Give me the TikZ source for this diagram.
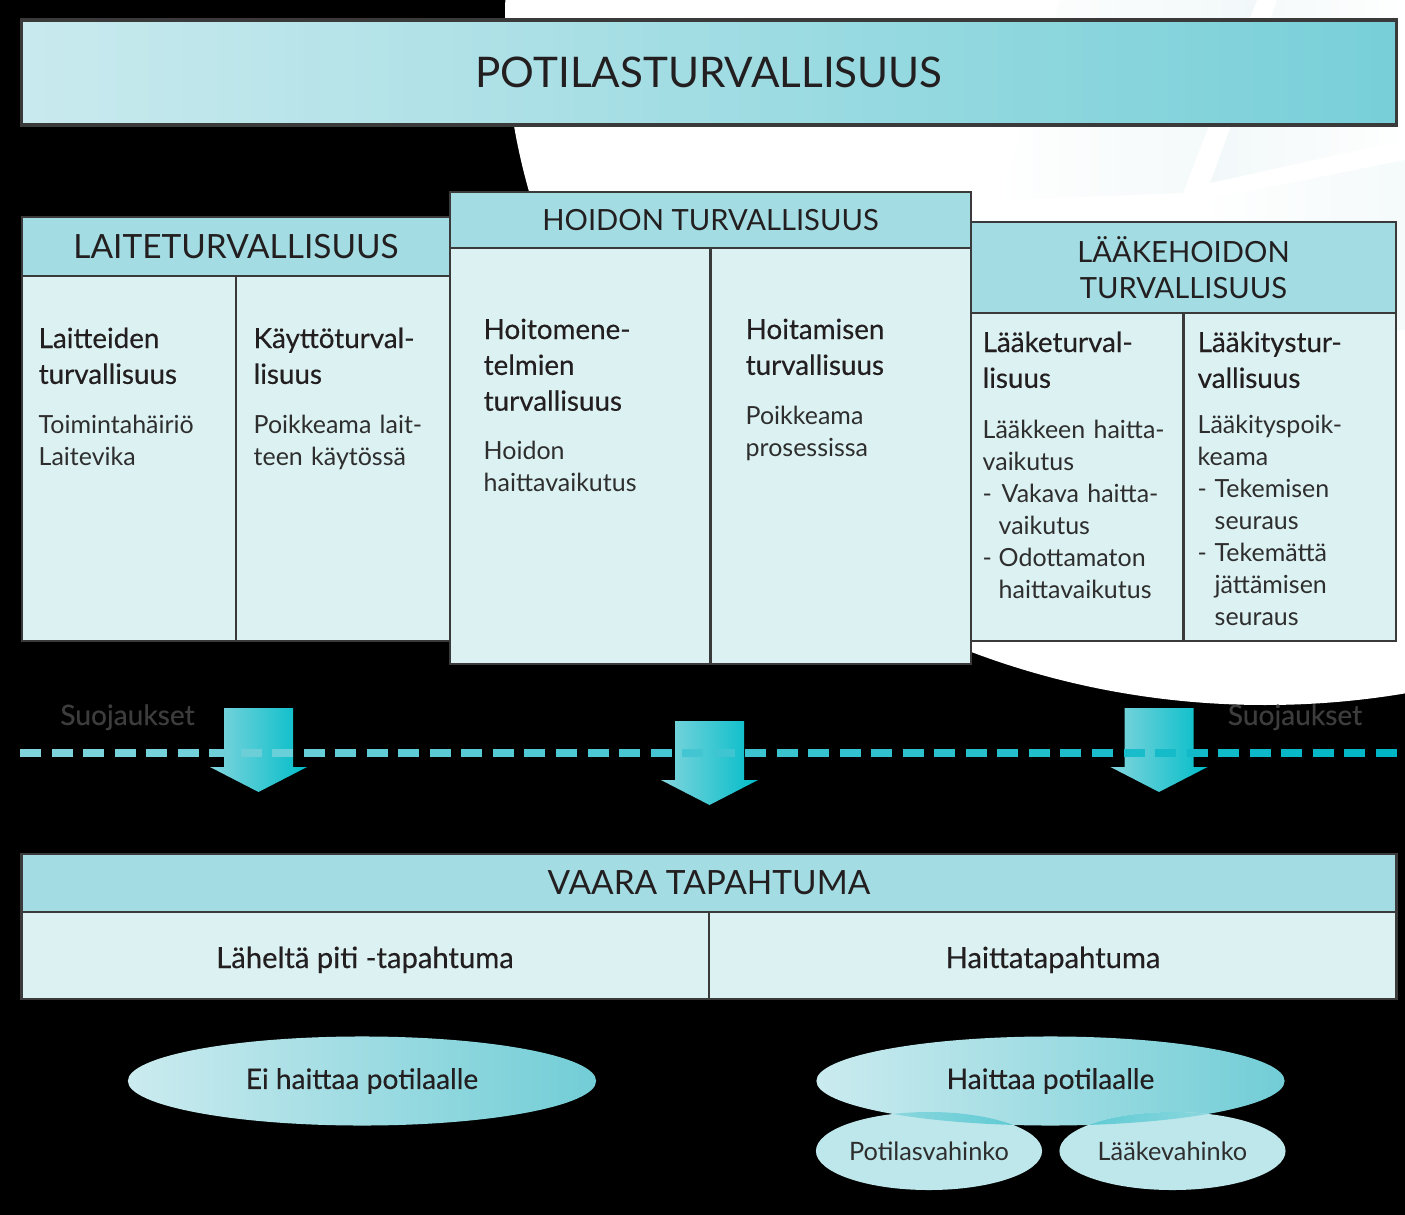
\documentclass[tikz,border=0pt]{standalone}
\usepackage{fontspec}
\setmainfont{Lato}
\newfontfamily\subfont{Lato}[FakeBold=0.35]
\usetikzlibrary{positioning}
\usetikzlibrary{shapes.geometric}

\definecolor{titleL}{HTML}{C9EAEE}
\definecolor{titleR}{HTML}{78CFD8}
\definecolor{headfill}{HTML}{A3DDE3}
\definecolor{bodyfill}{HTML}{DCF1F2}
\definecolor{boxline}{HTML}{3A3A3A}
\definecolor{arrowL}{HTML}{83D5DD}
\definecolor{arrowR}{HTML}{00BDC9}
\definecolor{dashL}{HTML}{80D4DC}
\definecolor{dashR}{HTML}{00B6C6}
\definecolor{ellL}{HTML}{CBEBEF}
\definecolor{ellR}{HTML}{72CDD6}
\definecolor{smallell}{HTML}{BEE7EB}
\definecolor{ovL}{HTML}{A6DEE3}
\definecolor{ovR}{HTML}{55C8D2}
\definecolor{inktext}{HTML}{231F20}
\definecolor{softtext}{HTML}{2E2E2E}
\definecolor{guardgray}{HTML}{3D3D3D}
\definecolor{streak}{HTML}{E6F3F5}

\tikzset{
  boxframe/.style={draw=boxline, line width=0.7pt, outer sep=0pt, inner sep=0pt},
  titlebox/.style={boxframe, line width=0.9pt, left color=titleL, right color=titleR,
    text=inktext, font=\fontsize{12}{14}\selectfont},
  headbox/.style={boxframe, fill=headfill, text=inktext, align=center},
  bodybox/.style={boxframe, fill=bodyfill},
  divider/.style={draw=boxline, line width=0.7pt},
  subhead/.style={anchor=base west, inner sep=0pt, text=inktext, align=left,
    text width=1.95cm, font=\subfont\fontsize{7.9}{10.2}\selectfont},
  bodytext/.style={anchor=base west, inner sep=0pt, text=softtext, align=left,
    text width=1.95cm, font=\fontsize{7.1}{9.1}\selectfont},
  eventtext/.style={anchor=base, inner sep=0pt, text=inktext,
    font=\subfont\fontsize{8.3}{10}\selectfont},
  guardtext/.style={anchor=base, inner sep=0pt, text=guardgray,
    font=\subfont\fontsize{8}{10}\selectfont},
  bigell/.style={ellipse, inner sep=0pt, minimum width=4.68cm, minimum height=0.89cm,
    left color=ellL, right color=ellR, text=inktext,
    font=\subfont\fontsize{8}{10}\selectfont},
  smallellipse/.style={ellipse, inner sep=0pt, minimum width=2.26cm, minimum height=0.78cm,
    fill=smallell, text=softtext, font=\fontsize{7.2}{9}\selectfont}
}

\begin{document}
\begin{tikzpicture}[x=0.01cm, y=-0.01cm]
\useasboundingbox (0,0) rectangle (1405,1215);
\fill[black] (0,0) rectangle (1405,1215);
\begin{scope}
\clip (0,0) rectangle (1405,1215);
\fill[white] (1265,20) ellipse [x radius=760, y radius=685];
\clip (1265,20) ellipse [x radius=760, y radius=685];
\shade[left color=white, right color=streak, opacity=0.5] (1060,0) -- (1257,0) -- (1183,193) -- (1000,200) -- cycle;
\shade[left color=streak, right color=white, opacity=0.5] (1277,0) -- (1405,0) -- (1405,140) -- (1210,183) -- cycle;
\shade[left color=white, right color=streak, opacity=0.4] (1205,200) -- (1405,160) -- (1405,330) -- (1300,330) -- cycle;
\end{scope}

\node[titlebox, minimum width=13.74cm, minimum height=1.05cm] (title) at (709,72.5) {POTILASTURVALLISUUS};

% laitteet
\node[headbox, minimum width=4.28cm, minimum height=0.59cm, font=\fontsize{9.5}{11}\selectfont] (laiteHead) at (236,246.5) {LAITETURVALLISUUS};
\node[bodybox, minimum width=4.28cm, minimum height=3.65cm, below=0pt of laiteHead] (laiteBody) {};
\draw[divider] (laiteHead.south) -- (laiteBody.south);

% laakehoito
\node[headbox, minimum width=4.25cm, minimum height=0.91cm, font=\fontsize{8.3}{10.2}\selectfont] (laakeHead) at (1183.5,267.5) {LÄÄKEHOIDON\\TURVALLISUUS};
\node[bodybox, minimum width=4.25cm, minimum height=3.28cm, below=0pt of laakeHead] (laakeBody) {};
\draw[divider] (laakeHead.south) -- (laakeBody.south);

% hoito
\node[headbox, minimum width=5.21cm, minimum height=0.56cm, font=\fontsize{8.3}{10}\selectfont] (hoitoHead) at (710.5,220) {HOIDON TURVALLISUUS};
\node[bodybox, minimum width=5.21cm, minimum height=4.16cm, below=0pt of hoitoHead] (hoitoBody) {};
\draw[divider] (hoitoHead.south) -- (hoitoBody.south);

\node[subhead] (laitteidenT) at (38,348) {Laitteiden\\turvallisuus};
\node[bodytext] (toimintaT) at (38,433) {Toimintahäiriö\\Laitevika};
\node[subhead] (kayttoT) at (253,348) {Käyttöturval-\\lisuus};
\node[bodytext] (poikkeamaT) at (253,433) {Poikkeama lait-\\teen käytössä};
\node[subhead] (hoitomT) at (483,339) {Hoitomene-\\telmien\\turvallisuus};
\node[bodytext] (hoidonT) at (483,459) {Hoidon\\haittavaikutus};
\node[subhead] (hoitamT) at (745,339) {Hoitamisen\\turvallisuus};
\node[bodytext] (prosessiT) at (745,424) {Poikkeama\\prosessissa};
\node[subhead] (laaketT) at (982,352) {Lääketurval-\\lisuus};
\node[bodytext] (haittavT) at (982,438) {Lääkkeen haitta-\\vaikutus\\\makebox[0.19cm][l]{-}Vakava haitta-\\\hspace*{0.16cm}vaikutus\\\makebox[0.16cm][l]{-}Odottamaton\\\hspace*{0.16cm}haittavaikutus};
\node[subhead] (laakitysT) at (1197,352) {Lääkitystur-\\vallisuus};
\node[bodytext] (spoikT) at (1197,433) {Lääkityspoik-\\keama\\\makebox[0.17cm][l]{-}Tekemisen\\\hspace*{0.17cm}seuraus\\\makebox[0.17cm][l]{-}Tekemättä\\\hspace*{0.17cm}jättämisen\\\hspace*{0.17cm}seuraus};

% suojaukset
\node[guardtext] (suojaL) at (127.5,725) {Suojaukset};
\node[guardtext] (suojaR) at (1295,725) {Suojaukset};
\foreach \ax/\ay in {258.5/708, 709.5/721, 1159/708}
  \shade[left color=arrowL, middle color=arrowR, right color=arrowR]
    (\ax-34.5,\ay) -- (\ax+34.5,\ay) -- (\ax+34.5,\ay+59) -- (\ax+48.5,\ay+59)
    -- (\ax,\ay+84) -- (\ax-48.5,\ay+59) -- (\ax-34.5,\ay+59) -- cycle;
\foreach \k in {0,...,43}{
  \pgfmathsetmacro\dx{20+31.53*\k}
  \pgfmathtruncatemacro\mixp{100*\k/43}
  \fill[dashR!\mixp!dashL] (\dx,749) rectangle ++(21,8);
}

% vaara
\node[headbox, minimum width=13.74cm, minimum height=0.58cm, font=\fontsize{9.5}{11}\selectfont] (vaaraHead) at (709,883) {VAARA TAPAHTUMA};
\node[bodybox, minimum width=13.74cm, minimum height=0.87cm, below=0pt of vaaraHead] (vaaraBody) {};
\draw[divider] (vaaraHead.south) -- (vaaraBody.south);
\node[eventtext] (laheltaT) at (365,968) {Läheltä piti -tapahtuma};
\node[eventtext] (haittaT) at (1053,968) {Haittatapahtuma};

\node[bigell] (eiHaitta) at (362,1081) {Ei haittaa potilaalle};
\node[bigell] (haitta) at (1050.5,1081) {Haittaa potilaalle};
\node[smallellipse] (potilasV) at (929,1151) {Potilasvahinko};
\node[smallellipse] (laakeV) at (1172.5,1151) {Lääkevahinko};
\begin{scope}
\clip (haitta.center) ellipse [x radius=234.5, y radius=44.5];
\shade[left color=ovL, right color=ovR] (potilasV.center) ellipse [x radius=113, y radius=39];
\shade[left color=ovR, right color=ovL] (laakeV.center) ellipse [x radius=112.5, y radius=39];
\end{scope}
\end{tikzpicture}
\end{document}
